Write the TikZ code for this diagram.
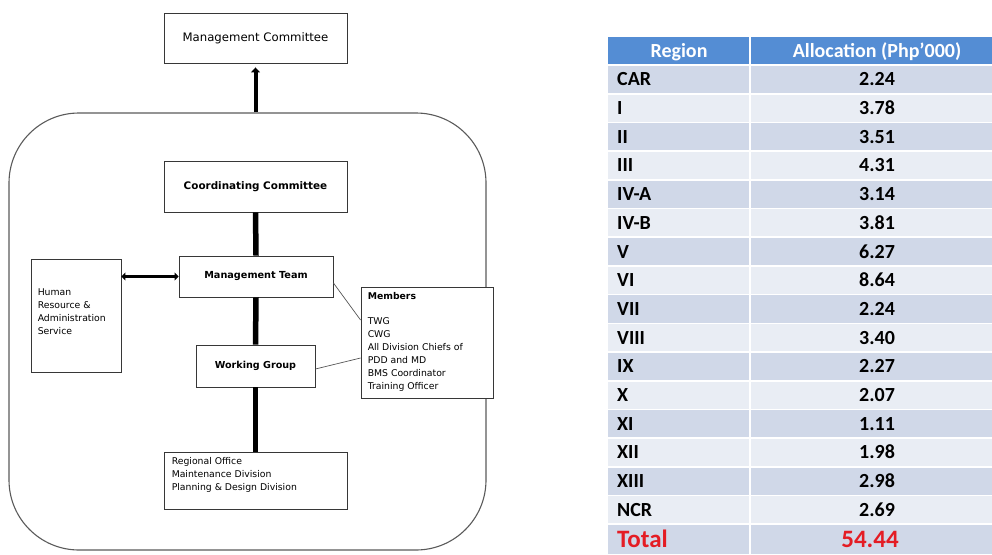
\documentclass[tikz,border=0pt]{standalone}
\usepackage{fontspec}
\setmainfont{DejaVu Sans}
\newfontfamily\tablefont{Carlito}
\usetikzlibrary{arrows.meta}

\definecolor{hdrblue}{RGB}{84,141,212}
\definecolor{banddark}{RGB}{208,216,232}
\definecolor{bandlight}{RGB}{233,237,244}
\definecolor{totalred}{RGB}{228,28,36}
\definecolor{boxline}{RGB}{55,55,55}
\definecolor{frameline}{RGB}{90,90,90}

\begin{document}
\begin{tikzpicture}[x=1pt,y=-1pt,
  orgbox/.style={draw=boxline, line width=0.9pt, fill=white, inner sep=0pt},
  heavyline/.style={line width=5.5pt},
  linkline/.style={draw=boxline!85, line width=0.7pt},
  smalltext/.style={anchor=north west, align=left, inner sep=0pt,
    font=\fontsize{9.3}{13}\selectfont},
  hdrcell/.style={text=white, inner sep=0pt, text height=12.9pt, text depth=0pt,
    font=\tablefont\bfseries\fontsize{20}{24}\selectfont},
  regcell/.style={anchor=west, inner sep=0pt, text height=12.9pt, text depth=0pt,
    font=\tablefont\bfseries\fontsize{20}{24}\selectfont},
  valcell/.style={inner sep=0pt, text height=12.9pt, text depth=0pt,
    font=\tablefont\bfseries\fontsize{20}{24}\selectfont},
  totcell/.style={text=totalred, inner sep=0pt, text height=16.1pt, text depth=0pt,
    font=\tablefont\bfseries\fontsize{25}{28}\selectfont},
]
\useasboundingbox (0,0) rectangle (992,554);

% ---------------- organisation chart ----------------
\node[draw=frameline, line width=1.1pt, rounded corners=70pt,
      minimum width=477pt, minimum height=437pt] (frame) at (247.5,331.5) {};

\node[orgbox, minimum width=183pt, minimum height=50pt,
      font=\fontsize{11.7}{13}\selectfont] (mc) at (255.5,38) {Management Committee};

\node[orgbox, minimum width=183pt, minimum height=51pt,
      font=\bfseries\fontsize{10.4}{12}\selectfont] (cc) at (255.5,186.5) {Coordinating Committee};

\node[orgbox, minimum width=154pt, minimum height=41pt,
      font=\bfseries\fontsize{9.7}{12}\selectfont] (mt) at (256,276.5) {Management Team};

\node[orgbox, minimum width=119pt, minimum height=42pt,
      font=\bfseries\fontsize{9.6}{12}\selectfont] (wg) at (255.5,366) {Working Group};

\node[orgbox, minimum width=90pt, minimum height=113pt] (hr) at (76,315.5) {};
\node[smalltext] (hrtext) at ([xshift=7pt,yshift=-30pt]hr.north west)
  {Human\\Resource \&\\Administration\\Service};

\node[orgbox, minimum width=183pt, minimum height=57pt] (ro) at (255.5,480.5) {};
\node[smalltext] (rotext) at ([xshift=8pt,yshift=-5.5pt]ro.north west)
  {Regional Office\\Maintenance Division\\Planning \& Design Division};

\node[orgbox, minimum width=132pt, minimum height=111pt] (mem) at (427,342.5) {};
\node[smalltext] (memtext) at ([xshift=7pt,yshift=-6pt]mem.north west)
  {\textbf{Members}\\[12pt]TWG\\CWG\\All Division Chiefs of\\PDD and MD\\BMS Coordinator\\Training Officer};

% connectors
\draw[line width=4pt, -{Triangle[length=5pt,width=9pt]}, shorten >=4pt]
  (mc.south |- frame.north) -- (mc.south);
\draw[heavyline] (cc.south) -- (mt.north);
\draw[heavyline] (mt.south) -- (wg.north);
\draw[heavyline] (wg.south) -- (ro.north);
\draw[line width=3.4pt, {Triangle[length=4pt,width=8pt]}-{Triangle[length=4pt,width=8pt]}]
  (hr.east |- mt.west) -- (mt.west);
\draw[linkline] ([yshift=-6.5pt]mt.east) -- ([yshift=22.5pt]mem.west);
\draw[linkline] ([yshift=-3pt]wg.east) -- ([yshift=-15.5pt]mem.west);

% ---------------- allocation table ----------------
\fill[hdrblue] (608,37) rectangle (992,65);
\node[hdrcell] (hregion) at (679,51) {Region};
\node[hdrcell] (halloc) at (877,51) {Allocation (Php’000)};

\foreach \name/\val [count=\i from 0] in
  {CAR/2.24, I/3.78, II/3.51, III/4.31, IV-A/3.14, IV-B/3.81, V/6.27, VI/8.64,
   VII/2.24, VIII/3.40, IX/2.27, X/2.07, XI/1.11, XII/1.98, XIII/2.98, NCR/2.69}{
  \pgfmathsetmacro{\ytop}{65+\i*28.7}
  \pgfmathsetmacro{\ybot}{\ytop+28.7}
  \pgfmathsetmacro{\ymid}{\ytop+14.35}
  \ifodd\i \def\bandcol{bandlight}\else\def\bandcol{banddark}\fi
  \fill[\bandcol] (608,\ytop) rectangle (992,\ybot);
  \node[regcell] (reg-\i) at (617,\ymid) {\name};
  \node[valcell] (val-\i) at (877,\ymid) {\val};
}
\fill[banddark] (608,524.2) rectangle (992,554);
\node[totcell, anchor=west] (totlabel) at (617,539.5) {Total};
\node[totcell] (totval) at (870,539.5) {54.44};

% white rules between rows and columns
\foreach \k in {0,...,16}{
  \draw[white, line width=1.6pt] (608,{65+\k*28.7}) -- (992,{65+\k*28.7});
}
\draw[white, line width=1.8pt] (750,37) -- (750,554);
\end{tikzpicture}
\end{document}
